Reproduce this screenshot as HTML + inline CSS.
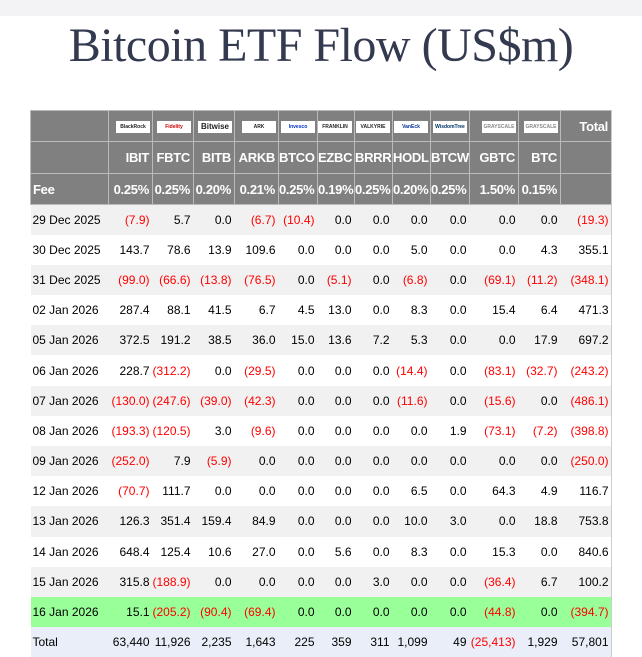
<!DOCTYPE html>
<html><head><meta charset="utf-8"><style>
body{margin:0;width:642px;height:657px;background:#fff;position:relative;overflow:hidden;font-family:"Liberation Sans",Arial,sans-serif}
.band{position:absolute;left:0;top:0;width:642px;height:16px;background:#f3f3f5}
h1{position:absolute;left:0;width:642px;top:18px;margin:0;text-align:center;font:48px "Liberation Serif",serif;color:#333a4f;letter-spacing:-0.5px}
table{position:absolute;left:30px;top:110px;width:581px;border-collapse:collapse;table-layout:fixed;font-size:12px}
td{padding:0 3px 0 0;text-align:right;white-space:nowrap;overflow:hidden;box-sizing:border-box}
tr.h td{background:#808080;color:#fff;font-weight:bold;border:1px solid #bbb;font-size:13px;letter-spacing:-0.3px}
tr.h1 td{height:31px}
tr.h2 td{height:32px}
tr.h3 td{height:31px}
tr.d td{height:30.2px;color:#000}
tr.d td:first-child,tr.h3 td:first-child{text-align:left;padding-left:2px}
tr.d:nth-child(odd) td{background:#f1f1f1}
tr.g td{background:#99ff99!important}
tr.t td{background:#e9eef8!important}
.r{color:#f00!important}
.logo{display:inline-block;width:34px;height:12px;background:#fff;font-size:5px;color:#222;line-height:12px;text-align:center;vertical-align:middle;margin-right:-1px;letter-spacing:0}
</style></head><body>
<div class="band"></div>
<h1>Bitcoin ETF Flow (US$m)</h1>
<table>
<colgroup><col style="width:78px"><col style="width:44px"><col style="width:41px"><col style="width:41px"><col style="width:44px"><col style="width:39px"><col style="width:37px"><col style="width:38px"><col style="width:38px"><col style="width:39px"><col style="width:49px"><col style="width:42px"><col style="width:51px"></colgroup>
<tr class="h h1"><td></td><td><span class="logo">BlackRock</span></td><td><span class="logo" style="color:#c00">Fidelity</span></td><td><span class="logo" style="font-size:8px">Bitwise</span></td><td><span class="logo">ARK</span></td><td><span class="logo" style="color:#03c">Invesco</span></td><td><span class="logo">FRANKLIN</span></td><td><span class="logo">VALKYRIE</span></td><td><span class="logo" style="color:#039">VanEck</span></td><td><span class="logo" style="color:#036">WisdomTree</span></td><td><span class="logo" style="color:#888">GRAYSCALE</span></td><td><span class="logo" style="color:#888">GRAYSCALE</span></td><td>Total</td></tr>
<tr class="h h2"><td></td><td>IBIT</td><td>FBTC</td><td>BITB</td><td>ARKB</td><td>BTCO</td><td>EZBC</td><td>BRRR</td><td>HODL</td><td>BTCW</td><td>GBTC</td><td>BTC</td><td></td></tr>
<tr class="h h3"><td>Fee</td><td>0.25%</td><td>0.25%</td><td>0.20%</td><td>0.21%</td><td>0.25%</td><td>0.19%</td><td>0.25%</td><td>0.20%</td><td>0.25%</td><td>1.50%</td><td>0.15%</td><td></td></tr>
<tbody>
<tr class="d"><td>29 Dec 2025</td><td class="r">(7.9)</td><td>5.7</td><td>0.0</td><td class="r">(6.7)</td><td class="r">(10.4)</td><td>0.0</td><td>0.0</td><td>0.0</td><td>0.0</td><td>0.0</td><td>0.0</td><td class="r">(19.3)</td></tr>
<tr class="d"><td>30 Dec 2025</td><td>143.7</td><td>78.6</td><td>13.9</td><td>109.6</td><td>0.0</td><td>0.0</td><td>0.0</td><td>5.0</td><td>0.0</td><td>0.0</td><td>4.3</td><td>355.1</td></tr>
<tr class="d"><td>31 Dec 2025</td><td class="r">(99.0)</td><td class="r">(66.6)</td><td class="r">(13.8)</td><td class="r">(76.5)</td><td>0.0</td><td class="r">(5.1)</td><td>0.0</td><td class="r">(6.8)</td><td>0.0</td><td class="r">(69.1)</td><td class="r">(11.2)</td><td class="r">(348.1)</td></tr>
<tr class="d"><td>02 Jan 2026</td><td>287.4</td><td>88.1</td><td>41.5</td><td>6.7</td><td>4.5</td><td>13.0</td><td>0.0</td><td>8.3</td><td>0.0</td><td>15.4</td><td>6.4</td><td>471.3</td></tr>
<tr class="d"><td>05 Jan 2026</td><td>372.5</td><td>191.2</td><td>38.5</td><td>36.0</td><td>15.0</td><td>13.6</td><td>7.2</td><td>5.3</td><td>0.0</td><td>0.0</td><td>17.9</td><td>697.2</td></tr>
<tr class="d"><td>06 Jan 2026</td><td>228.7</td><td class="r">(312.2)</td><td>0.0</td><td class="r">(29.5)</td><td>0.0</td><td>0.0</td><td>0.0</td><td class="r">(14.4)</td><td>0.0</td><td class="r">(83.1)</td><td class="r">(32.7)</td><td class="r">(243.2)</td></tr>
<tr class="d"><td>07 Jan 2026</td><td class="r">(130.0)</td><td class="r">(247.6)</td><td class="r">(39.0)</td><td class="r">(42.3)</td><td>0.0</td><td>0.0</td><td>0.0</td><td class="r">(11.6)</td><td>0.0</td><td class="r">(15.6)</td><td>0.0</td><td class="r">(486.1)</td></tr>
<tr class="d"><td>08 Jan 2026</td><td class="r">(193.3)</td><td class="r">(120.5)</td><td>3.0</td><td class="r">(9.6)</td><td>0.0</td><td>0.0</td><td>0.0</td><td>0.0</td><td>1.9</td><td class="r">(73.1)</td><td class="r">(7.2)</td><td class="r">(398.8)</td></tr>
<tr class="d"><td>09 Jan 2026</td><td class="r">(252.0)</td><td>7.9</td><td class="r">(5.9)</td><td>0.0</td><td>0.0</td><td>0.0</td><td>0.0</td><td>0.0</td><td>0.0</td><td>0.0</td><td>0.0</td><td class="r">(250.0)</td></tr>
<tr class="d"><td>12 Jan 2026</td><td class="r">(70.7)</td><td>111.7</td><td>0.0</td><td>0.0</td><td>0.0</td><td>0.0</td><td>0.0</td><td>6.5</td><td>0.0</td><td>64.3</td><td>4.9</td><td>116.7</td></tr>
<tr class="d"><td>13 Jan 2026</td><td>126.3</td><td>351.4</td><td>159.4</td><td>84.9</td><td>0.0</td><td>0.0</td><td>0.0</td><td>10.0</td><td>3.0</td><td>0.0</td><td>18.8</td><td>753.8</td></tr>
<tr class="d"><td>14 Jan 2026</td><td>648.4</td><td>125.4</td><td>10.6</td><td>27.0</td><td>0.0</td><td>5.6</td><td>0.0</td><td>8.3</td><td>0.0</td><td>15.3</td><td>0.0</td><td>840.6</td></tr>
<tr class="d"><td>15 Jan 2026</td><td>315.8</td><td class="r">(188.9)</td><td>0.0</td><td>0.0</td><td>0.0</td><td>0.0</td><td>3.0</td><td>0.0</td><td>0.0</td><td class="r">(36.4)</td><td>6.7</td><td>100.2</td></tr>
<tr class="d g"><td>16 Jan 2026</td><td>15.1</td><td class="r">(205.2)</td><td class="r">(90.4)</td><td class="r">(69.4)</td><td>0.0</td><td>0.0</td><td>0.0</td><td>0.0</td><td>0.0</td><td class="r">(44.8)</td><td>0.0</td><td class="r">(394.7)</td></tr>
<tr class="d t"><td>Total</td><td>63,440</td><td>11,926</td><td>2,235</td><td>1,643</td><td>225</td><td>359</td><td>311</td><td>1,099</td><td>49</td><td class="r">(25,413)</td><td>1,929</td><td>57,801</td></tr>
</tbody></table>
<div style="position:absolute;left:611px;top:110px;width:1px;height:547px;background:#ccc"></div>
</body></html>
